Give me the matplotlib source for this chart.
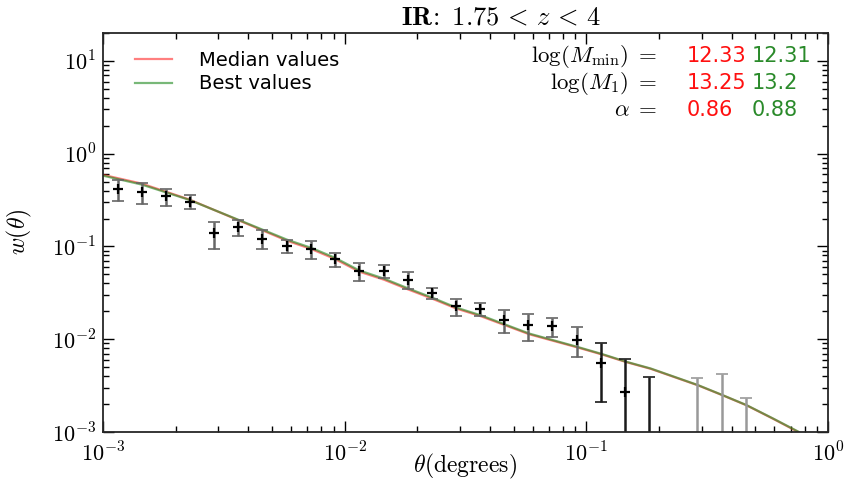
import math
import matplotlib
matplotlib.use("Agg")
import matplotlib.pyplot as plt
from matplotlib.ticker import FuncFormatter, NullFormatter

# observed angular correlation, IR sample
theta_obs = [0.00115, 0.00145, 0.00182, 0.00229, 0.00288, 0.00363, 0.00457,
             0.00575, 0.00724, 0.00912, 0.0115, 0.0145, 0.0182, 0.0229,
             0.0288, 0.0363, 0.0457, 0.0575, 0.0724, 0.0912, 0.115, 0.145,
             0.182, 0.288, 0.363, 0.457]
w_obs = [0.417, 0.384, 0.348, 0.305, 0.139, 0.161, 0.121, 0.100, 0.0944,
         0.0724, 0.0542, 0.0542, 0.0438, 0.0315, 0.0226, 0.0214, 0.0163,
         0.0142, 0.0138, 0.0099, 0.0056, 0.0027, 0.0008, 0.0009, 0.0007,
         0.0005]
w_err = [0.11, 0.10, 0.072, 0.054, 0.045, 0.030, 0.028, 0.016, 0.021, 0.013,
         0.012, 0.009, 0.0093, 0.0044, 0.0048, 0.0034, 0.0045, 0.0047, 0.0033,
         0.0035, 0.0035, 0.0034, 0.0031, 0.0029, 0.0035, 0.0018]

# HOD model curves
theta_model = [0.001, 0.001445, 0.002275, 0.00363, 0.00579, 0.00726, 0.00912,
               0.01148, 0.01455, 0.01816, 0.0230, 0.0290, 0.0366, 0.0581,
               0.0920, 0.1167, 0.1469, 0.1845, 0.290, 0.366, 0.460, 0.592,
               0.753, 0.89]
w_best = [0.580, 0.465, 0.318, 0.194, 0.118, 0.0968, 0.0755, 0.0552, 0.0450,
          0.0356, 0.0281, 0.0219, 0.0181, 0.0115, 0.00826, 0.00690, 0.00570,
          0.00484, 0.00320, 0.00250, 0.00195, 0.00140, 0.00101, 0.00065]
w_median = [0.592, 0.476, 0.321, 0.192, 0.115, 0.0940, 0.0732, 0.0536, 0.0438,
            0.0347, 0.0274, 0.0214, 0.0177, 0.0113, 0.00815, 0.00682, 0.00565,
            0.00480, 0.00318, 0.00249, 0.00194, 0.00139, 0.00100, 0.00064]

param_names = [r'$\log(M_{\rm min})\;=$', r'$\log(M_1)\;=$', r'$\alpha\;=$']
median_params = ['12.33', '13.25', '0.86']
best_params = ['12.31', '13.2', '0.88']

plt.rcParams['mathtext.fontset'] = 'cm'
plt.rcParams['font.family'] = 'DejaVu Sans'

W, H = 849, 482
fig = plt.figure(figsize=(W / 100, H / 100), dpi=100)
ax = fig.add_axes([103 / W, 1 - 432 / H, 725 / W, 399 / H])

ax.plot(theta_model, w_median, color='#ff2a2a', lw=1.6, alpha=0.6,
        label='Median values')
ax.plot(theta_model, w_best, color='#1f8a1f', lw=1.6, alpha=0.6,
        label='Best values')

for t, w, e in zip(theta_obs, w_obs, w_err):
    if t > 0.25:
        col = '0.6'
    elif t > 0.1:
        col = '0.1'
    else:
        col = '0.4'
    ax.errorbar([t], [w], yerr=[e], fmt='none', ecolor=col, elinewidth=1.8,
                capsize=4, capthick=1.2)
    if w > 0.001:
        ax.plot([t], [w], marker='+', color='k', ms=7, mew=1.6, ls='none')

ax.set_xscale('log')
ax.set_yscale('log')
ax.set_xlim(1e-3, 1)
ax.set_ylim(1e-3, 20)

pow10 = FuncFormatter(lambda v, pos: r'$10^{%d}$' % round(math.log10(v)))
ax.xaxis.set_major_formatter(pow10)
ax.yaxis.set_major_formatter(pow10)
ax.xaxis.set_minor_formatter(NullFormatter())
ax.yaxis.set_minor_formatter(NullFormatter())

ax.tick_params(which='both', direction='in', top=True, right=True,
               labelsize=16, pad=5)
ax.tick_params(axis='x', which='major', pad=7)
ax.tick_params(which='major', length=8, width=1)
ax.tick_params(which='minor', length=4, width=1)
for sp in ax.spines.values():
    sp.set_linewidth(1.3)
    sp.set_color('0.15')

ax.set_xlabel(r'$\theta(\rm degrees)$', fontsize=17, va='center')
ax.xaxis.set_label_coords(0.5, (432 - 466) / 399)
ax.set_ylabel(r'$w(\theta)$', fontsize=17, va='center')
ax.yaxis.set_label_coords((19 - 103) / 725, 0.5)
ax.set_title(r'$\mathbf{IR}\!\mathbf{:}\ 1.75\,<\,z\,<\,4$', fontsize=19,
             x=0.548, pad=6)

ax.legend(loc='upper left', frameon=False, fontsize=14, handlelength=1.9,
          handletextpad=1.4, labelspacing=0.25,
          bbox_to_anchor=(0.02, 1.0))

rows = [62, 89, 116]
for name, med, best, yb in zip(param_names, median_params, best_params, rows):
    fig.text(657 / W, 1 - yb / H, name, ha='right', va='baseline',
             fontsize=16.5)
    fig.text(687 / W, 1 - yb / H, med, ha='left', va='baseline', fontsize=15,
             color='#ff1010')
    fig.text(752 / W, 1 - yb / H, best, ha='left', va='baseline', fontsize=15,
             color='#2a8a2a')

fig.savefig('out.png', dpi=100)
